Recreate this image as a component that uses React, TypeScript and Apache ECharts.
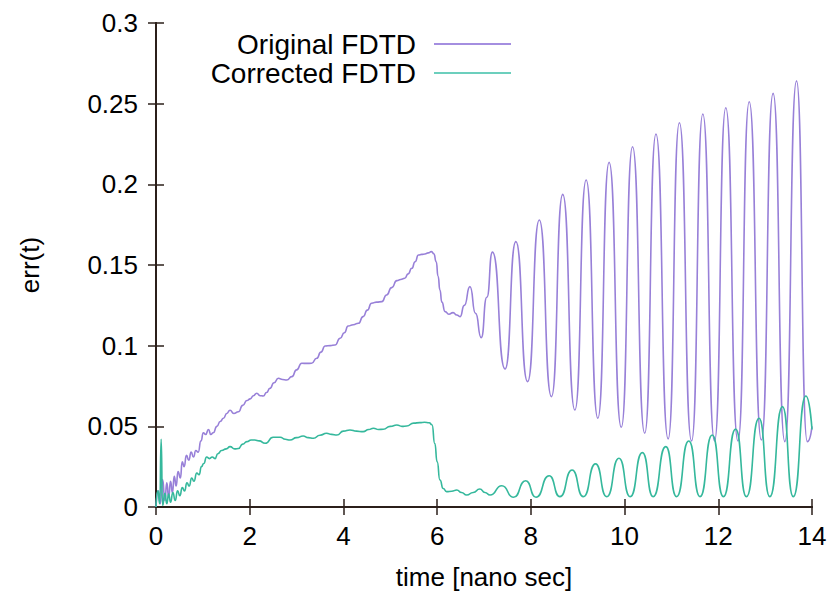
import React, { useEffect, useRef } from "react";
import * as echarts from "echarts";

// time [nano sec] and err(t)
const originalTime = [
  0, 0.05, 0.09, 0.14, 0.19, 0.23, 0.27, 0.31, 0.35, 0.39, 0.43, 0.47, 0.52, 0.56, 0.6, 0.65, 0.7, 0.75, 0.8, 0.85,
  0.9, 0.96, 1.01, 1.06, 1.12, 1.17, 1.22, 1.3, 1.37, 1.44, 1.51, 1.58, 1.66, 1.76, 1.85, 1.94, 2.01, 2.08, 2.15, 2.22,
  2.29, 2.36, 2.43, 2.52, 2.61, 2.7, 2.79, 2.9, 3.0, 3.11, 3.22, 3.32, 3.43, 3.52, 3.61, 3.72, 3.82, 3.93, 4.02, 4.1,
  4.21, 4.32, 4.42, 4.51, 4.6, 4.71, 4.82, 4.92, 5.03, 5.14, 5.22, 5.31, 5.38, 5.46, 5.53, 5.6, 5.67, 5.74, 5.81, 5.88,
  5.93, 5.98, 6.02, 6.06, 6.1, 6.17, 6.25, 6.34, 6.42, 6.49, 6.58, 6.7, 6.82, 6.94, 7.06, 7.18, 7.45, 7.68, 7.93, 8.18,
  8.44, 8.68, 8.94, 9.18, 9.43, 9.67, 9.93, 10.17, 10.43, 10.67, 10.93, 11.17, 11.43, 11.67, 11.92, 12.16, 12.42, 12.66,
  12.92, 13.17, 13.42, 13.67, 13.9, 14.0,
];
const originalErr = [
  0, 0.01, 0.002, 0.017, 0.004, 0.015, 0.006, 0.016, 0.009, 0.019, 0.013, 0.022, 0.018, 0.028, 0.025, 0.032, 0.029, 0.034, 0.031, 0.035,
  0.034, 0.041, 0.046, 0.045, 0.048, 0.045, 0.046, 0.05, 0.053, 0.055, 0.058, 0.06, 0.058, 0.059, 0.063, 0.066, 0.067, 0.069, 0.0705, 0.069,
  0.0688, 0.071, 0.0735, 0.077, 0.0798, 0.079, 0.0787, 0.0808, 0.085, 0.0891, 0.089, 0.0891, 0.0922, 0.096, 0.0998, 0.1, 0.1004, 0.1046, 0.108, 0.1122,
  0.113, 0.1139, 0.118, 0.122, 0.1263, 0.127, 0.1273, 0.1314, 0.136, 0.1403, 0.141, 0.1418, 0.1445, 0.148, 0.152, 0.1562, 0.1566, 0.1568, 0.1575, 0.1583,
  0.157, 0.152, 0.143, 0.1345, 0.127, 0.1211, 0.1195, 0.1205, 0.119, 0.118, 0.125, 0.1366, 0.12, 0.105, 0.13, 0.158, 0.0855, 0.1645, 0.0777, 0.1779,
  0.0684, 0.1938, 0.0601, 0.2027, 0.055, 0.2136, 0.0494, 0.2233, 0.0457, 0.2312, 0.0422, 0.2382, 0.0409, 0.2436, 0.0409, 0.2475, 0.0409, 0.2512,
  0.0415, 0.2564, 0.0405, 0.2641, 0.0405, 0.05,
];

const correctedTime = [
  0, 0.04, 0.08, 0.11, 0.14, 0.19, 0.23, 0.27, 0.31, 0.36, 0.41, 0.46, 0.51, 0.56, 0.61, 0.66, 0.71, 0.76, 0.81, 0.87,
  0.92, 0.97, 1.02, 1.08, 1.14, 1.2, 1.26, 1.32, 1.4, 1.5, 1.58, 1.68, 1.76, 1.85, 1.94, 2.03, 2.11, 2.2, 2.33, 2.5,
  2.65, 2.76, 2.86, 3.0, 3.14, 3.25, 3.36, 3.5, 3.64, 3.75, 3.86, 4.0, 4.14, 4.28, 4.42, 4.54, 4.64, 4.75, 4.85, 5.0,
  5.14, 5.25, 5.35, 5.5, 5.63, 5.73, 5.83, 5.89, 5.95, 6.0, 6.06, 6.13, 6.2, 6.31, 6.42, 6.52, 6.63, 6.77, 6.91, 7.02,
  7.13, 7.38, 7.63, 7.89, 8.11, 8.39, 8.62, 8.88, 9.12, 9.38, 9.62, 9.88, 10.12, 10.38, 10.61, 10.88, 11.11, 11.37, 11.61, 11.87,
  12.11, 12.37, 12.6, 12.87, 13.1, 13.37, 13.6, 13.87, 14.0,
];
const correctedErr = [
  0, 0.01, 0.002, 0.042, 0.001, 0.0085, 0.002, 0.008, 0.003, 0.009, 0.004, 0.01, 0.007, 0.012, 0.01, 0.015, 0.013, 0.018, 0.016, 0.021,
  0.02, 0.025, 0.027, 0.031, 0.03, 0.031, 0.03, 0.033, 0.035, 0.036, 0.0374, 0.036, 0.0363, 0.039, 0.0405, 0.0415, 0.0415, 0.041, 0.0395, 0.0432,
  0.0432, 0.042, 0.0415, 0.043, 0.044, 0.043, 0.0426, 0.0445, 0.0457, 0.045, 0.0446, 0.047, 0.0477, 0.047, 0.0467, 0.048, 0.0488, 0.048, 0.0482, 0.05,
  0.0508, 0.05, 0.0502, 0.052, 0.0523, 0.0525, 0.0522, 0.051, 0.0394, 0.028, 0.0167, 0.0115, 0.0095, 0.0098, 0.0105, 0.009, 0.0074, 0.009, 0.0112, 0.009,
  0.0074, 0.0132, 0.006, 0.0163, 0.006, 0.0194, 0.0064, 0.0229, 0.0064, 0.0267, 0.0064, 0.0302, 0.0064, 0.0337, 0.0064, 0.0374, 0.0064, 0.0409, 0.0064, 0.0446,
  0.0064, 0.0483, 0.0064, 0.055, 0.0064, 0.0622, 0.0064, 0.0688, 0.048,
];

const seriesNames = ["Original FDTD", "Corrected FDTD"];
const xTitle = "time [nano sec]";
const yTitle = "err(t)";

const zip = (t: number[], v: number[]) => t.map((x, i) => [x, v[i]]);

const FONT = "Liberation Sans, Arial, sans-serif";
const FRAME = "#2b1f1a";
const PURPLE = "#9880d8";
const TEAL = "#35b89c";

export default function App() {
  const ref = useRef<HTMLDivElement>(null);
  useEffect(() => {
    if (!ref.current) return;
    const chart = echarts.init(ref.current, null, { renderer: "svg" });
    const axisCommon = {
      axisLine: { show: true, lineStyle: { color: FRAME, width: 2 } },
      axisTick: { show: true, inside: true, length: 8, lineStyle: { color: FRAME, width: 1.5 } },
      splitLine: { show: false },
    };
    const legendCommon = {
      orient: "vertical",
      right: 322,
      padding: 0,
      align: "right",
      icon: "rect",
      itemWidth: 77,
      itemHeight: 2,
      textStyle: { fontSize: 28, color: "#000", fontFamily: FONT, padding: [0, 13, 0, 0] },
    };
    chart.setOption({
      animation: false,
      backgroundColor: "#fff",
      textStyle: { fontFamily: FONT },
      grid: { left: 156, right: 21, top: 23, bottom: 88, containLabel: false },
      legend: [
        { ...legendCommon, top: 30, data: [{ name: seriesNames[0], itemStyle: { color: "#a48ee0" } }] },
        { ...legendCommon, top: 59, data: [{ name: seriesNames[1], itemStyle: { color: "#6ccfbd" } }] },
      ],
      xAxis: [
        {
          ...axisCommon,
          type: "value",
          position: "bottom",
          min: 0,
          max: 14,
          interval: 2,
          axisLabel: { fontSize: 26, color: "#000", margin: 16, fontFamily: FONT },
          name: xTitle,
          nameLocation: "middle",
          nameGap: 57,
          nameTextStyle: { fontSize: 26, color: "#000", fontFamily: FONT },
        },
        {
          ...axisCommon,
          type: "value",
          position: "top",
          min: 0,
          max: 14,
          interval: 2,
          axisLabel: { show: false },
        },
      ],
      yAxis: [
        {
          ...axisCommon,
          type: "value",
          position: "left",
          min: 0,
          max: 0.3,
          interval: 0.05,
          axisLabel: { fontSize: 26, color: "#000", margin: 18, fontFamily: FONT },
          name: yTitle,
          nameLocation: "middle",
          nameGap: 113,
          nameTextStyle: { fontSize: 26, color: "#000", fontFamily: FONT },
        },
        {
          ...axisCommon,
          type: "value",
          position: "right",
          min: 0,
          max: 0.3,
          interval: 0.05,
          axisLabel: { show: false },
        },
      ],
      series: [
        {
          name: seriesNames[0],
          type: "line",
          data: zip(originalTime, originalErr),
          showSymbol: false,
          symbol: "none",
          smooth: 0.6,
          smoothMonotone: "x",
          lineStyle: { color: PURPLE, width: 1.6 },
          itemStyle: { color: PURPLE },
          z: 2,
        },
        {
          name: seriesNames[1],
          type: "line",
          data: zip(correctedTime, correctedErr),
          showSymbol: false,
          symbol: "none",
          smooth: 0.6,
          smoothMonotone: "x",
          lineStyle: { color: TEAL, width: 1.6 },
          itemStyle: { color: TEAL },
          z: 3,
        },
      ],
    });
    return () => chart.dispose();
  }, []);
  return (
    <div
      ref={ref}
      style={{ position: "fixed", left: 0, top: 0, width: 833, height: 595, background: "#fff" }}
    />
  );
}
